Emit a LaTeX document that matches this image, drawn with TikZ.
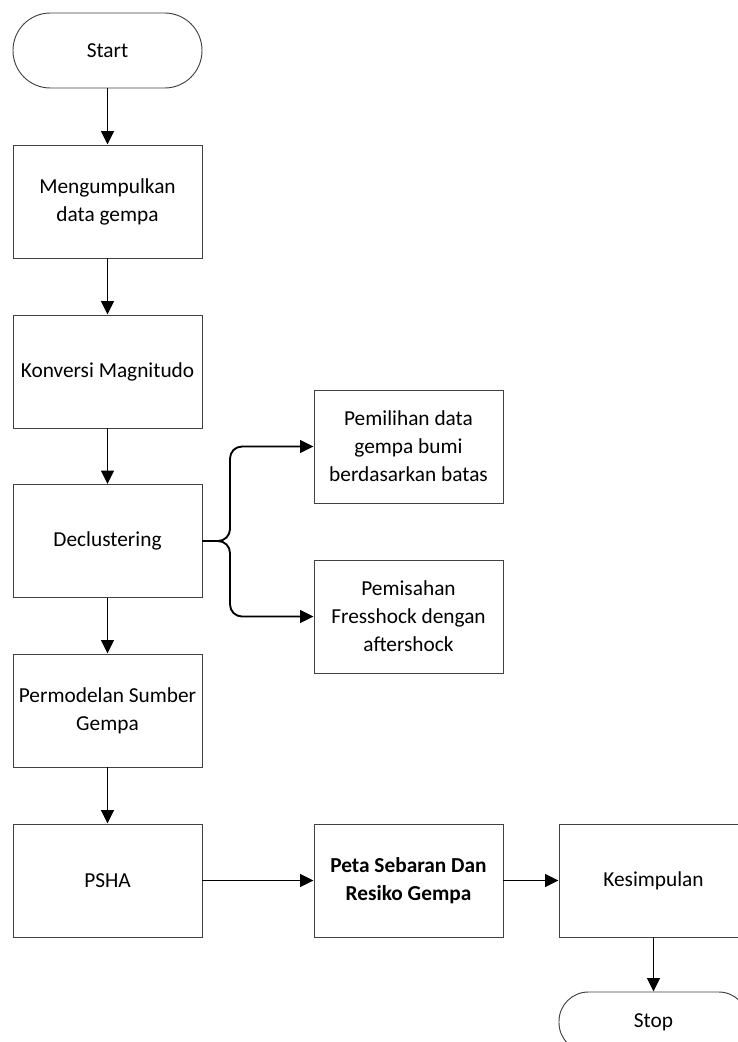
\documentclass[tikz,border=0pt]{standalone}
\usepackage{fontspec}
\setmainfont{Carlito}
\usetikzlibrary{arrows.meta}
\begin{document}
\begin{tikzpicture}[x=0.75pt,y=-0.75pt,
  box/.style={draw=black!75,line width=0.7pt,rectangle,minimum width=141.75pt,minimum height=84.75pt,align=center,inner sep=0pt,font=\fontsize{16}{21}\selectfont},
  term/.style={draw=black!75,line width=0.7pt,rectangle,rounded corners=28pt,minimum width=141.75pt,minimum height=56.25pt,align=center,inner sep=0pt,font=\fontsize{16}{21}\selectfont},
  arr/.style={line width=1.4pt,-{Triangle[length=10pt,width=9.5pt]}}]
\useasboundingbox (0,0) rectangle (738,1042);
\node[term] (start) at (107.5,50.5) {Start};
\node[box] (b1) at (107.5,201.5) {Mengumpulkan\\data gempa};
\node[box] (b2) at (107.5,371.5) {Konversi Magnitudo};
\node[box] (b3) at (107.5,541) {Declustering};
\node[box] (b4) at (107.5,710.5) {Permodelan Sumber\\Gempa};
\node[box] (b5) at (107.5,880.5) {PSHA};
\node[box] (p1) at (408.5,446.5) {Pemilihan data\\gempa bumi\\berdasarkan batas};
\node[box] (p2) at (408.5,616.5) {Pemisahan\\Fresshock dengan\\aftershock};
\node[box] (peta) at (408.5,880.5) {\bfseries Peta Sebaran Dan\\\bfseries Resiko Gempa};
\node[box] (kes) at (653.5,880.5) {Kesimpulan};
\node[term,minimum height=45pt,rounded corners=22pt] (stop) at (653.5,1022) {Stop};
\coordinate (jn) at (230,541);
\draw[arr] (start) -- (b1);
\draw[arr] (b1) -- (b2);
\draw[arr] (b2) -- (b3);
\draw[arr] (b3) -- (b4);
\draw[arr] (b4) -- (b5);
\draw[arr] (b5) -- (peta);
\draw[arr] (peta) -- (kes);
\draw[arr] (kes) -- (stop);
\draw[arr,rounded corners=9pt] (b3.east) -- (jn) |- (p1.west);
\draw[arr,rounded corners=9pt] (b3.east) -- (jn) |- (p2.west);
\end{tikzpicture}
\end{document}
